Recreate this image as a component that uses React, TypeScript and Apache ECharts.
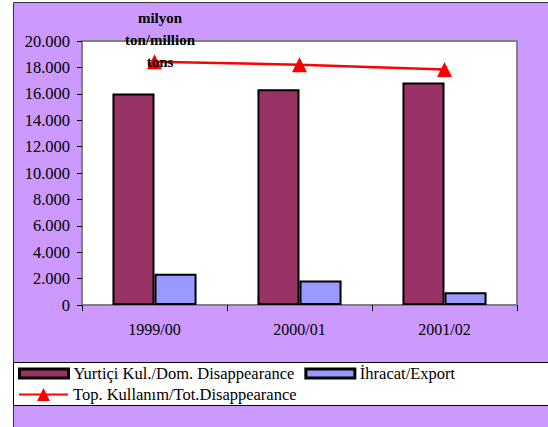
import React, { useEffect, useRef } from "react";
import * as echarts from "echarts";

const categories = ["1999/00", "2000/01", "2001/02"];
const domestic = [16030, 16350, 16860];
const exports = [2360, 1850, 970];
const total = [18420, 18210, 17850];
const yTicks = { min: 0, max: 20000, interval: 2000 };
const seriesNames = [
  "Yurtiçi Kul./Dom. Disappearance",
  "İhracat/Export",
  "Top. Kullanım/Tot.Disappearance",
];
const titleText = "milyon\nton/million\ntons";

const FONT = "'Liberation Serif', 'Times New Roman', serif";

function fmt(v: number): string {
  const s = Math.round(v).toString();
  return s.replace(/\B(?=(\d{3})+(?!\d))/g, ".");
}

export default function App() {
  const ref = useRef<HTMLDivElement>(null);
  useEffect(() => {
    if (!ref.current) return;
    const chart = echarts.init(ref.current, undefined, { renderer: "svg" });
    chart.setOption({
      animation: false,
      backgroundColor: "#ffffff",
      textStyle: { fontFamily: FONT },
      graphic: [
        {
          type: "rect",
          z: -10,
          silent: true,
          shape: { x: 13.5, y: 2.5, width: 560, height: 460 },
          style: { fill: "#CC99FF", stroke: "#333333", lineWidth: 1 },
        },
        {
          type: "rect",
          z: -9,
          silent: true,
          shape: { x: 13.5, y: 362.5, width: 560, height: 43 },
          style: { fill: "#ffffff", stroke: "#000000", lineWidth: 1 },
        },
        {
          type: "text",
          z: 100,
          x: 160,
          y: 7,
          style: {
            text: titleText,
            fontFamily: FONT,
            fontWeight: "bold",
            fontSize: 15,
            lineHeight: 22,
            fill: "#000000",
            align: "center",
            verticalAlign: "top",
          },
        },
      ],
      grid: {
        left: 82,
        top: 41,
        right: 31,
        bottom: 122,
        show: true,
        backgroundColor: "#ffffff",
        borderColor: "#808080",
        borderWidth: 2,
        containLabel: false,
      },
      legend: [
        {
          data: [
            { name: seriesNames[0], icon: "rect", itemStyle: { borderWidth: 3 } },
            { name: seriesNames[1], icon: "rect", itemStyle: { borderWidth: 3 } },
          ],
          left: 18,
          top: 365,
          itemWidth: 49,
          itemHeight: 9,
          itemGap: 10,
          padding: 0,
          textStyle: { fontFamily: FONT, fontSize: 16.5, color: "#000" },
        },
        {
          data: [seriesNames[2]],
          left: 18,
          top: 386,
          itemWidth: 49,
          itemHeight: 16,
          padding: 0,
          textStyle: { fontFamily: FONT, fontSize: 16.5, color: "#000" },
        },
      ],
      xAxis: {
        type: "category",
        data: categories,
        axisLine: { lineStyle: { color: "#808080", width: 2 } },
        axisTick: { show: true, length: 6, lineStyle: { color: "#000", width: 1 } },
        axisLabel: { fontFamily: FONT, fontSize: 16, color: "#000", margin: 16 },
      },
      yAxis: {
        type: "value",
        min: yTicks.min,
        max: yTicks.max,
        interval: yTicks.interval,
        splitLine: { show: false },
        axisLine: { show: true, lineStyle: { color: "#808080", width: 2 } },
        axisTick: { show: true, length: 5, lineStyle: { color: "#000", width: 1 } },
        axisLabel: {
          fontFamily: FONT,
          fontSize: 16.5,
          color: "#000",
          margin: 12,
          formatter: (v: number) => fmt(v),
        },
      },
      series: [
        {
          name: seriesNames[0],
          type: "bar",
          data: domestic,
          barGap: "0%",
          barCategoryGap: "42%",
          itemStyle: { color: "#993366", borderColor: "#000", borderWidth: 2 },
        },
        {
          name: seriesNames[1],
          type: "bar",
          data: exports,
          barGap: "0%",
          barCategoryGap: "42%",
          itemStyle: { color: "#9999FF", borderColor: "#000", borderWidth: 2 },
        },
        {
          name: seriesNames[2],
          type: "line",
          data: total,
          symbol: "triangle",
          symbolSize: [15, 15],
          z: 5,
          lineStyle: { color: "#FF0000", width: 2.5 },
          itemStyle: { color: "#FF0000" },
        },
      ],
    });
    return () => chart.dispose();
  }, []);
  return (
    <div
      ref={ref}
      style={{ position: "absolute", left: 0, top: 0, width: 548, height: 427 }}
    />
  );
}
